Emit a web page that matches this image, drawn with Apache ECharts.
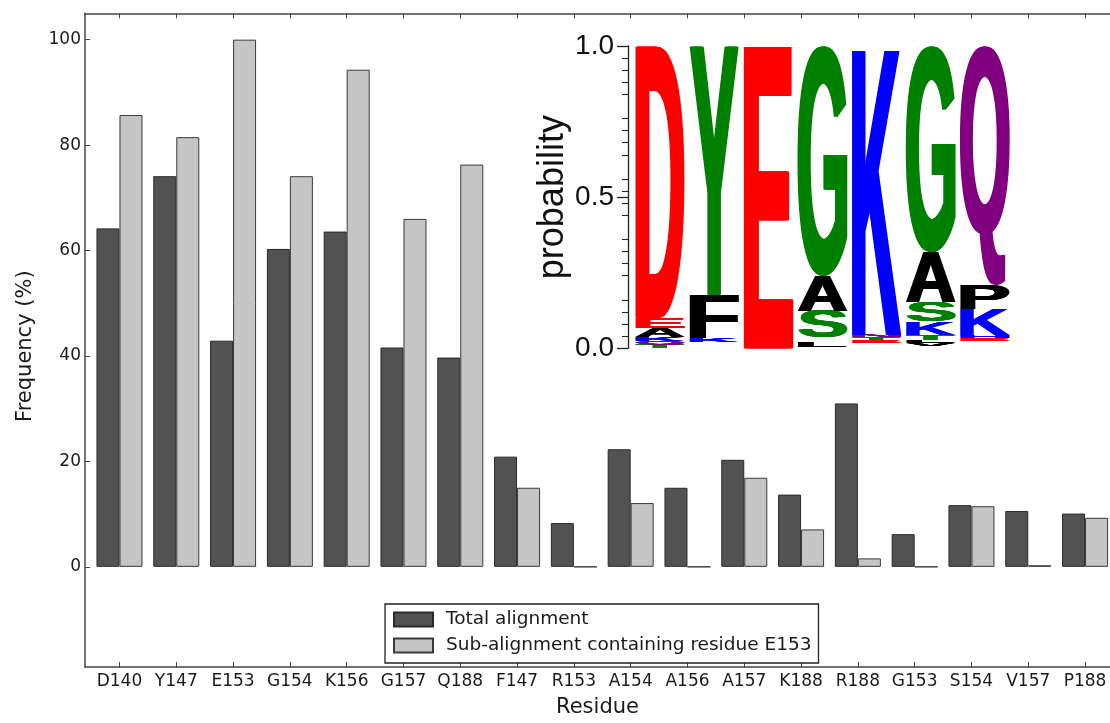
<!DOCTYPE html>
<html>
<head>
<meta charset="utf-8">
<script src="https://cdn.jsdelivr.net/npm/echarts@6/dist/echarts.min.js"></script>
<style>html,body{margin:0;padding:0;background:#fff;}#c{width:1110px;height:723px;}</style>
</head>
<body>
<div id="c"></div>
<script>
// ---- main bar chart data ----
const categories = ['D140','Y147','E153','G154','K156','G157','Q188','F147','R153','A154','A156','A157','K188','R188','G153','S154','V157','P188'];
const totalAlignment = [64.2, 74.1, 42.9, 60.3, 63.6, 41.6, 39.7, 20.9, 8.3, 22.3, 15.0, 20.3, 13.7, 31.0, 6.2, 11.7, 10.6, 10.1];
const subAlignment   = [85.7, 81.5, 100.0, 74.1, 94.3, 66.0, 76.3, 15.0, 0, 12.1, 0, 16.9, 7.1, 1.6, 0, 11.5, 0.3, 9.3];
const yTicks = [0, 20, 40, 60, 80, 100];
const seriesNames = ['Total alignment', 'Sub-alignment containing residue E153'];

// ---- inset sequence logo data (bottom -> top: [letter, probability]; '' = undrawn residual) ----
const logoPositions = ['1','2','3','4','5','6','7'];
const logoStack1 = [['T',0.012],['Q',0.012],['K',0.012],['A',0.03],['E',0.035],['D',0.899]];
const logoStack2 = [['',0.02],['K',0.012],['F',0.145],['Y',0.823]];
const logoStack3 = [['E',1.0]];
const logoStack4 = [['',0.005],['L',0.015],['',0.015],['S',0.09],['A',0.115],['G',0.76]];
const logoStack5 = [['',0.018],['E',0.01],['T',0.008],['N',0.008],['K',0.956]];
const logoStack6 = [['',0.008],['V',0.01],['L',0.01],['T',0.017],['K',0.043],['S',0.064],['A',0.166],['G',0.682]];
const logoStack7 = [['',0.025],['E',0.008],['H',0.01],['K',0.085],['P',0.08],['Q',0.792]];
const logoTicks = [0, 0.5, 1.0];

const logoStacks = [logoStack1, logoStack2, logoStack3, logoStack4, logoStack5, logoStack6, logoStack7];
const letterColor = {D:'#ff0000',E:'#ff0000',G:'#008000',S:'#008000',T:'#008000',Y:'#008000',C:'#008000',
  N:'#800080',Q:'#800080',K:'#0000ff',R:'#0000ff',H:'#0000ff',
  A:'#000000',V:'#000000',L:'#000000',I:'#000000',P:'#000000',W:'#000000',F:'#000000',M:'#000000'};

const logoData = [];
const logoLetters = [];
logoStacks.forEach((stack, col) => {
  let base = 0;
  stack.forEach(([ch, p]) => {
    if (ch) { logoData.push([col, base, base + p]); logoLetters.push(ch); }
    base += p;
  });
});

const LOGO_FONT = 'bold 100px "Liberation Sans"';
const mc = document.createElement('canvas').getContext('2d');
mc.font = LOGO_FONT; mc.textBaseline = 'middle'; mc.textAlign = 'left';
const metricCache = {};
function metric(ch) {
  if (!metricCache[ch]) {
    const m = mc.measureText(ch);
    metricCache[ch] = {l: m.actualBoundingBoxLeft, r: m.actualBoundingBoxRight, a: m.actualBoundingBoxAscent, d: m.actualBoundingBoxDescent};
  }
  return metricCache[ch];
}

const MAIN_FONT = 'DejaVu Sans';
const chart = echarts.init(document.getElementById('c'), null, {renderer: 'canvas'});
const xMin = -0.607, xMax = 17.439;
const catIdx = categories.map((_, i) => i);

chart.setOption({
  animation: false,
  backgroundColor: '#ffffff',
  grid: [
    {left: 85, right: 0, top: 13.3, bottom: 52.3},
    {left: 633, right: 98, top: 46, bottom: 374.7}
  ],
  legend: {
    data: seriesNames,
    orient: 'vertical',
    left: 385, top: 604,
    itemWidth: 39, itemHeight: 14, itemGap: 7,
    padding: [6, 7, 8, 8],
    backgroundColor: '#ffffff',
    borderColor: '#222', borderWidth: 1.3, borderRadius: 0,
    icon: 'rect',
    textStyle: {fontFamily: MAIN_FONT, fontSize: 18.5, color: '#1a1a1a', lineHeight: 18, padding: [0, 0, 0, 8]}
  },
  xAxis: [
    {
      type: 'value', gridIndex: 0, min: xMin, max: xMax, position: 'bottom',
      name: 'Residue', nameLocation: 'middle', nameGap: 30,
      nameTextStyle: {fontFamily: MAIN_FONT, fontSize: 21, color: '#1a1a1a'},
      axisLine: {show: true, onZero: false, lineStyle: {color: '#444', width: 1.5}},
      axisTick: {show: true, inside: true, length: 5, customValues: catIdx, lineStyle: {color: '#444', width: 1}},
      axisLabel: {show: true, customValues: catIdx, margin: 6, fontFamily: MAIN_FONT, fontSize: 17, color: '#1a1a1a',
        formatter: v => categories[Math.round(v)] || ''},
      splitLine: {show: false}
    },
    {
      type: 'value', gridIndex: 0, min: xMin, max: xMax, position: 'top',
      axisLine: {show: true, onZero: false, lineStyle: {color: '#444', width: 1.5}},
      axisTick: {show: true, inside: true, length: 5, customValues: catIdx, lineStyle: {color: '#444', width: 1}},
      axisLabel: {show: false},
      splitLine: {show: false}
    },
    {
      type: 'category', gridIndex: 1, data: logoPositions, show: false
    }
  ],
  yAxis: [
    {
      type: 'value', gridIndex: 0, min: -19, max: 105, position: 'left',
      name: 'Frequency (%)', nameLocation: 'middle', nameGap: 49,
      nameTextStyle: {fontFamily: MAIN_FONT, fontSize: 21, color: '#1a1a1a', padding: [0, 12, 0, 0]},
      axisLine: {show: true, onZero: false, lineStyle: {color: '#444', width: 1.5}},
      axisTick: {show: true, inside: true, length: 5, customValues: yTicks, lineStyle: {color: '#444', width: 1}},
      axisLabel: {show: true, customValues: yTicks, margin: 4, fontFamily: MAIN_FONT, fontSize: 17, color: '#1a1a1a'},
      splitLine: {show: false}
    },
    {
      type: 'value', gridIndex: 1, min: 0, max: 1, offset: 5, position: 'left',
      name: 'probability', nameLocation: 'middle', nameGap: 57,
      nameTextStyle: {fontFamily: 'Liberation Sans', fontSize: 36, color: '#111'},
      axisLine: {show: true, onZero: false, lineStyle: {color: '#222', width: 1.3}},
      axisTick: {show: true, inside: false, length: 11, customValues: logoTicks, lineStyle: {color: '#222', width: 1.3}},
      minorTick: {show: true, splitNumber: 5, length: 6, lineStyle: {color: '#222', width: 1.1}},
      axisLabel: {show: true, customValues: logoTicks, margin: 14, fontFamily: 'Liberation Sans', fontSize: 28, color: '#111',
        formatter: v => v.toFixed(1)},
      splitLine: {show: false}, minorSplitLine: {show: false}
    }
  ],
  series: [
    {
      name: seriesNames[0], type: 'bar', xAxisIndex: 0, yAxisIndex: 0,
      barWidth: 23, barGap: '0%',
      itemStyle: {color: '#525252', borderColor: '#2a2a2a', borderWidth: 1},
      data: totalAlignment.map((v, i) => [i, v])
    },
    {
      name: seriesNames[1], type: 'bar', xAxisIndex: 0, yAxisIndex: 0,
      barWidth: 23, barGap: '0%',
      itemStyle: {color: '#c5c5c5', borderColor: '#3a3a3a', borderWidth: 1},
      data: subAlignment.map((v, i) => [i, v])
    },
    {
      name: 'logo', type: 'custom', xAxisIndex: 2, yAxisIndex: 1,
      encode: {x: 0, y: [1, 2]},
      data: logoData,
      renderItem: function (params, api) {
        const ch = logoLetters[params.dataIndex];
        const col = api.value(0), lo = api.value(1), hi = api.value(2);
        const top = api.coord([col, hi]);
        const bot = api.coord([col, lo]);
        const bw = api.size([1, 0])[0];
        const pad = 2, emb = 1.6;
        const x0 = top[0] - bw / 2 + pad + emb, x1 = top[0] + bw / 2 - pad - emb;
        const yT = top[1], yB = bot[1];
        const h = Math.max(yB - yT, 0.3);
        const m = metric(ch);
        const sx = (x1 - x0) / (m.l + m.r);
        const sy = h / (m.a + m.d);
        const baseX = x0 + sx * m.l, baseY = yT + sy * m.a;
        const children = [-emb, -emb / 2, 0, emb / 2, emb].map(dx => ({
          type: 'text',
          x: baseX + dx, y: baseY,
          scaleX: sx, scaleY: sy,
          silent: true,
          style: {text: ch, x: 0, y: 0, font: LOGO_FONT, fill: letterColor[ch] || '#000', align: 'left', verticalAlign: 'middle'}
        }));
        return {type: 'group', children: children};
      }
    }
  ]
});
</script>
</body>
</html>
